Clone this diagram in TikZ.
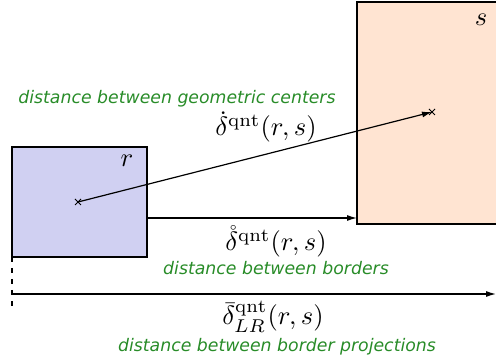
\documentclass[tikz,border=0pt]{standalone}
\usepackage{fontspec}
\setsansfont{DejaVu Sans}
\usetikzlibrary{arrows.meta,calc}
\definecolor{labgreen}{RGB}{40,140,40}
\definecolor{rfill}{RGB}{208,208,242}
\definecolor{sfill}{RGB}{255,228,210}
\begin{document}
\begin{tikzpicture}[x=1pt,y=-1pt,
  box/.style={draw=black,line width=2.6pt,inner sep=0pt,outer sep=0pt},
  conn/.style={line width=1.2pt,-{Latex[length=10pt,width=6pt]}},
  mathlab/.style={scale=2.65,transform shape,inner sep=0pt,anchor=base},
  greenlab/.style={font=\fontsize{17.3}{20}\selectfont\sffamily\itshape,text=labgreen,inner sep=0pt,anchor=base},
  crossmark/.style={line width=1pt}]
\useasboundingbox (0,0) rectangle (496,363);
\node[box,fill=rfill,minimum width=135pt,minimum height=110pt] (r) at (79.5,202) {};
\node[box,fill=sfill,minimum width=190pt,minimum height=222pt] (s) at (452,113) {};
\coordinate (rc) at (78,202);
\coordinate (sc) at (432,112);
\draw[crossmark] ($(rc)+(-3,-3)$) -- ($(rc)+(3,3)$) ($(rc)+(-3,3)$) -- ($(rc)+(3,-3)$);
\node[mathlab] (rl) at (127,167) {$r$};
\node[mathlab] (sl) at (481,26) {$s$};
\draw[crossmark] ($(sc)+(-3,-3)$) -- ($(sc)+(3,3)$) ($(sc)+(-3,3)$) -- ($(sc)+(3,-3)$);
\draw[conn] (rc) -- (sc);
\coordinate (b1) at (r.east |- 0,218);
\coordinate (b2) at (s.west |- 0,218);
\draw[conn] (b1) -- (b2);
\coordinate (d1) at (r.south west);
\coordinate (d2) at (12,308);
\draw[line width=1.2pt,dash pattern=on 5pt off 6pt] (d1) -- (d2);
\coordinate (p1) at (12,294);
\coordinate (p2) at (496,294);
\draw[conn] (p1) -- (p2);
\node[greenlab] (g1) at (177,104) {distance between geometric centers};
\node[mathlab] (m1) at (266,136) {$\dot{\delta}^{\mathrm{qnt}}(r,s)$};
\node[mathlab] (m2) at (276,251) {$\mathring{\delta}^{\mathrm{qnt}}(r,s)$};
\node[greenlab] (g2) at (276,275) {distance between borders};
\node[mathlab] (m3) at (273,325) {$\bar{\delta}^{\mathrm{qnt}}_{LR}(r,s)$};
\node[greenlab] (g3) at (277,352) {distance between border projections};
\end{tikzpicture}
\end{document}
